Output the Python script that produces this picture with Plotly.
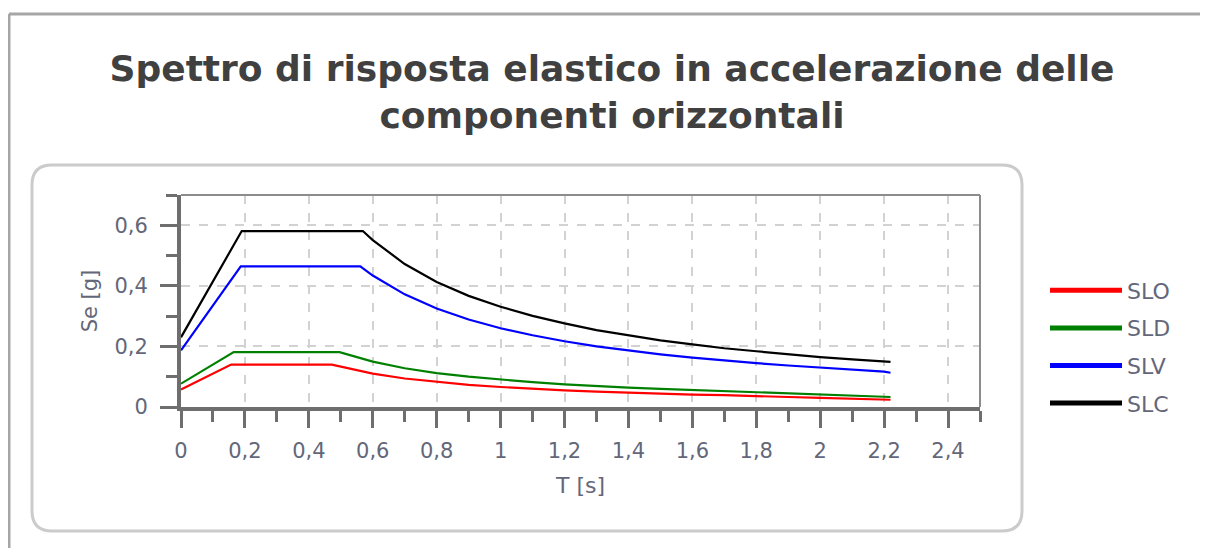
import plotly.graph_objects as go

# ---- data (T [s], Se [g]) ----
T_SLO = [0, 0.157, 0.472, 0.6, 0.7, 0.8, 0.9, 1.0, 1.1, 1.2, 1.3, 1.4, 1.5, 1.6, 1.7, 1.8, 1.9, 2.0, 2.1, 2.2, 2.22]
SE_SLO = [0.058, 0.140, 0.140, 0.110, 0.094, 0.083, 0.073, 0.066, 0.060, 0.055, 0.051, 0.047, 0.044, 0.041, 0.039, 0.037, 0.033, 0.030, 0.027, 0.025, 0.024]

T_SLD = [0, 0.165, 0.496, 0.6, 0.7, 0.8, 0.9, 1.0, 1.1, 1.2, 1.3, 1.4, 1.5, 1.6, 1.7, 1.8, 1.9, 2.0, 2.1, 2.2, 2.22]
SE_SLD = [0.077, 0.181, 0.181, 0.150, 0.128, 0.112, 0.100, 0.090, 0.082, 0.075, 0.069, 0.064, 0.060, 0.056, 0.053, 0.050, 0.046, 0.042, 0.038, 0.034, 0.033]

T_SLV = [0, 0.187, 0.561, 0.6, 0.7, 0.8, 0.9, 1.0, 1.1, 1.2, 1.3, 1.4, 1.5, 1.6, 1.7, 1.8, 1.9, 2.0, 2.1, 2.2, 2.22]
SE_SLV = [0.187, 0.464, 0.464, 0.434, 0.372, 0.325, 0.289, 0.260, 0.237, 0.217, 0.200, 0.186, 0.174, 0.163, 0.153, 0.145, 0.137, 0.130, 0.124, 0.117, 0.113]

T_SLC = [0, 0.190, 0.569, 0.6, 0.7, 0.8, 0.9, 1.0, 1.1, 1.2, 1.3, 1.4, 1.5, 1.6, 1.7, 1.8, 1.9, 2.0, 2.1, 2.2, 2.22]
SE_SLC = [0.230, 0.581, 0.581, 0.551, 0.472, 0.413, 0.367, 0.331, 0.301, 0.276, 0.254, 0.236, 0.220, 0.207, 0.194, 0.184, 0.174, 0.165, 0.157, 0.150, 0.149]

SERIES = [
    ("SLO", T_SLO, SE_SLO, "#ff0000"),
    ("SLD", T_SLD, SE_SLD, "#008000"),
    ("SLV", T_SLV, SE_SLV, "#0000ff"),
    ("SLC", T_SLC, SE_SLC, "#000000"),
]

TITLE = "Spettro di risposta elastico in accelerazione delle<br>componenti orizzontali"
X_TITLE = "T [s]"
Y_TITLE = "Se [g]"

# ---- layout geometry (page pixels; the figure sits 8 px in from the page corner) ----
OFF = 8
W, H = 1200, 540
L, R, TOP, BOT = 181 - OFF, 980 - OFF, 195 - OFF, 407 - OFF
PW, PH = R - L, BOT - TOP


def px(x):
    return (x - OFF - L) / PW


def py(y):
    return (BOT - (y - OFF)) / PH


LABEL_COLOR = "#636779"
FONT = "DejaVu Sans, Verdana, sans-serif"

fig = go.Figure()
for name, t, se, col in SERIES:
    fig.add_trace(go.Scatter(x=t, y=se, mode="lines", name=name,
                             line=dict(color=col, width=2.2),
                             showlegend=False, legendgroup=name,
                             hoverinfo="x+y+name"))
for name, t, se, col in SERIES:
    fig.add_trace(go.Scatter(x=[None], y=[None], mode="lines", name=name,
                             line=dict(color=col, width=5),
                             showlegend=True, legendgroup=name))

# rounded frame around the plot
x0, x1, y0, y1, r = 32, 1022, 165, 531, 20
rx, ry = r / PW, r / PH
X0, X1, Y0, Y1 = px(x0), px(x1), py(y0), py(y1)
path = (f"M {X0+rx},{Y0} L {X1-rx},{Y0} Q {X1},{Y0} {X1},{Y0-ry} "
        f"L {X1},{Y1+ry} Q {X1},{Y1} {X1-rx},{Y1} L {X0+rx},{Y1} "
        f"Q {X0},{Y1} {X0},{Y1+ry} L {X0},{Y0-ry} Q {X0},{Y0} {X0+rx},{Y0} Z")

shapes = [
    dict(type="path", xref="paper", yref="paper", path=path,
         line=dict(color="#cbcbcb", width=3), layer="below"),
    # outer border (top and left)
    dict(type="line", xref="paper", yref="paper", x0=px(9), x1=px(1208), y0=py(14), y1=py(14),
         line=dict(color="#a6a6a6", width=3)),
    dict(type="line", xref="paper", yref="paper", x0=px(9), x1=px(9), y0=py(14), y1=py(548),
         line=dict(color="#a6a6a6", width=3)),
    # thin top/right plot border
    dict(type="line", xref="paper", yref="paper", x0=0, x1=1, y0=1, y1=1,
         line=dict(color="#8c8c8c", width=2)),
    dict(type="line", xref="paper", yref="paper", x0=1, x1=1, y0=0, y1=1,
         line=dict(color="#8c8c8c", width=2)),
]

axis_common = dict(
    showline=True, linecolor="#6e6e6e", linewidth=4,
    ticks="outside", ticklen=17, tickwidth=3, tickcolor="#6e6e6e",
    showgrid=True, gridcolor="#d2d2d2", gridwidth=1.5, griddash="dash",
    zeroline=False, tickfont=dict(family=FONT, size=21, color=LABEL_COLOR),
    fixedrange=True,
)

fig.update_layout(
    width=W, height=H,
    margin=dict(l=L, r=W - R, t=TOP, b=H - BOT),
    paper_bgcolor="white", plot_bgcolor="white",
    separators=",.",
    title=dict(text=TITLE, xref="container", yref="container",
               x=(612 - OFF) / W, xanchor="center", y=1 - 73 / H, yanchor="top",
               font=dict(family=FONT, size=36, color="#404040", weight="bold")),
    xaxis=dict(range=[0, 2.5], tick0=0, dtick=0.2,
               minor=dict(dtick=0.1, ticklen=11, tickwidth=3, tickcolor="#6e6e6e", ticks="outside", showgrid=False),
               ticklabelstandoff=5,
               title=dict(text=X_TITLE, font=dict(family=FONT, size=22, color=LABEL_COLOR), standoff=16),
               **axis_common),
    yaxis=dict(range=[0, 0.7], tick0=0, dtick=0.2,
               minor=dict(dtick=0.1, ticklen=11, tickwidth=3, tickcolor="#6e6e6e", ticks="outside", showgrid=False),
               ticklabelstandoff=8,
               title=dict(text=Y_TITLE, font=dict(family=FONT, size=21, color=LABEL_COLOR), standoff=12),
               **axis_common),
    legend=dict(x=px(1045), xanchor="left", y=py(347), yanchor="middle",
                font=dict(family=FONT, size=22, color=LABEL_COLOR),
                itemwidth=72, tracegroupgap=6, bgcolor="rgba(0,0,0,0)"),
    shapes=shapes,
    showlegend=True,
)

fig.write_html("out.html")
